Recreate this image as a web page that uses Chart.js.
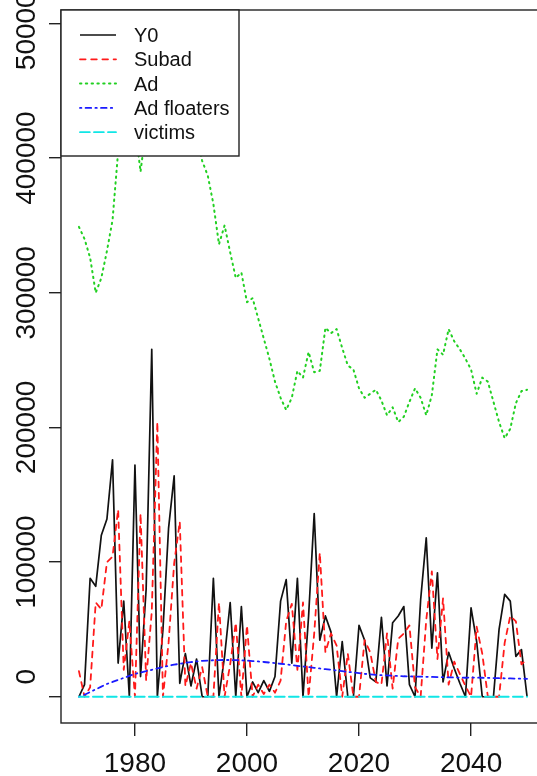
<!DOCTYPE html>
<html><head><meta charset="utf-8">
<script src="https://cdn.jsdelivr.net/npm/chart.js@4.4.1/dist/chart.umd.min.js"></script>
<style>
html,body{margin:0;padding:0;overflow:hidden;background:#fff;width:537px;height:776px}
#wrap{position:absolute;left:0;top:0;width:560px;height:776px}
canvas{display:block}
</style>
</head><body><div id="wrap"><canvas id="c" width="560" height="776" style="width:560px;height:776px"></canvas></div>
<script>
const years = [1970,1971,1972,1973,1974,1975,1976,1977,1978,1979,1980,1981,1982,1983,1984,1985,1986,1987,1988,1989,
1990,1991,1992,1993,1994,1995,1996,1997,1998,1999,2000,2001,2002,2003,2004,2005,2006,2007,2008,2009,
2010,2011,2012,2013,2014,2015,2016,2017,2018,2019,2020,2021,2022,2023,2024,2025,2026,2027,2028,2029,
2030,2031,2032,2033,2034,2035,2036,2037,2038,2039,2040,2041,2042,2043,2044,2045,2046,2047,2048,2049,2050];

const seriesNames = ["Y0","Subad","Ad","Ad floaters","victims"];

const y0 = [0,9000,88000,82000,120000,132000,176000,25000,71000,0,172000,15000,80000,258000,0,50000,125000,164000,10000,32000,
8000,28000,0,0,88000,0,30000,70000,0,67000,0,11000,3000,12000,4000,15000,71000,87000,25000,88000,
0,60000,136000,42000,60000,48000,0,41000,0,0,53000,42000,14000,11000,59000,8000,55000,60000,67000,9000,
0,72000,118000,36000,92000,11000,33000,21000,10000,0,66000,41000,0,0,0,50000,76000,71000,30000,35000,0];

const subad = [19000,0,7000,70000,65000,100000,104000,139000,20000,56000,0,136000,12000,63000,204000,0,40000,99000,130000,8000,
25000,6000,22000,0,0,70000,0,24000,55000,0,53000,0,9000,2000,9000,3000,12000,56000,69000,20000,
70000,0,47000,107000,33000,47000,38000,0,32000,0,0,42000,33000,11000,9000,47000,6000,43000,47000,53000,
7000,0,57000,93000,28000,73000,9000,26000,17000,8000,0,52000,32000,0,0,0,40000,60000,56000,24000,28000];

const ad = [349000,340000,326000,300000,311000,331000,354000,405000,440000,460000,424000,390000,423000,440000,462000,478000,488000,495000,480000,462000,
440000,415000,398000,387000,366000,336000,350000,330000,311000,315000,293000,296000,281000,266000,251000,234000,222000,213000,222000,242000,
237000,256000,241000,242000,274000,270000,273000,259000,246000,243000,229000,222000,225000,228000,220000,209000,215000,204000,208000,219000,
229000,222000,209000,224000,258000,254000,273000,264000,258000,251000,243000,225000,237000,234000,219000,204000,192000,199000,218000,227000,228000];

const adFloaters = [0,1500,3500,5500,7500,9500,11000,12500,14000,15500,17000,18000,19000,20000,21000,22000,23000,23800,24500,25200,
25700,26200,26600,26900,27100,27200,27300,27300,27200,27000,26800,26500,26200,25800,25400,25000,24500,24000,23500,23000,
22500,22000,21500,21000,20500,20000,19500,19000,18500,18000,17500,17000,16600,16300,16000,15800,15600,15400,15200,15100,
15000,14900,14800,14700,14600,14500,14400,14300,14200,14100,14300,14200,14100,14000,13900,13800,13700,13600,13500,13400,13300];

const victims = [0,0,0,0,0,0,0,0,0,0,0,0,0,0,0,0,0,0,0,0,0,0,0,0,0,0,0,0,0,0,0,0,0,0,0,0,0,0,0,0,
0,0,0,0,0,0,0,0,0,0,0,0,0,0,0,0,0,0,0,0,0,0,0,0,0,0,0,0,0,0,0,0,0,0,0,0,0,0,0,0,0];

const xTickValues = [1980,2000,2020,2040];
const yTickValues = [0,100000,200000,300000,400000,500000];
const yTickLabels = ["0","100000","200000","300000","400000","500000"];

const FONT = '"Liberation Sans", Arial, Helvetica, sans-serif';
const styles = [
  {color:'#111111', dash:[], width:1.7},
  {color:'#FF1A1A', dash:[5.6,5.6], width:1.8},
  {color:'#22D022', dash:[1.4,4.4], width:2.0},
  {color:'#1A1AFF', dash:[1.4,4.2,5.6,4.2], width:1.8},
  {color:'#11E6E6', dash:[9.8,4.2], width:1.8}
];
const allSeries = [y0, subad, ad, adFloaters, victims];

const datasets = allSeries.map((vals, k) => ({
  label: seriesNames[k],
  data: years.map((yr, i) => ({x: yr, y: vals[i]})),
  borderColor: styles[k].color,
  borderDash: styles[k].dash,
  borderWidth: styles[k].width,
  borderCapStyle: k === 0 ? 'butt' : 'round',
  borderJoinStyle: 'round',
  pointRadius: 0,
  tension: 0,
  fill: false,
  order: 5 - k
}));

const rPlugin = {
  id: 'rstyle',
  afterDraw(chart) {
    const ctx = chart.ctx, a = chart.chartArea, xs = chart.scales.x, ys = chart.scales.y;
    ctx.save();
    ctx.strokeStyle = '#222'; ctx.lineWidth = 1.4; ctx.setLineDash([]);
    ctx.strokeRect(a.left, a.top, a.right - a.left, a.bottom - a.top);
    ctx.fillStyle = '#111';
    ctx.font = '28px ' + FONT;
    yTickValues.forEach((v, i) => {
      let y = ys.getPixelForValue(v);
      if (yTickLabels[i] === '0') y -= 20;
      ctx.save();
      ctx.translate(35, y);
      ctx.rotate(-Math.PI / 2);
      ctx.textAlign = 'center';
      ctx.textBaseline = 'alphabetic';
      ctx.fillText(yTickLabels[i], 0, 0);
      ctx.restore();
    });
    ctx.textAlign = 'center';
    ctx.textBaseline = 'alphabetic';
    xTickValues.forEach(v => {
      ctx.fillText(String(v), xs.getPixelForValue(v), 772);
    });
    // legend
    const lx = a.left, ly = a.top, lw = 178, lh = 146;
    ctx.fillStyle = '#fff';
    ctx.fillRect(lx, ly, lw, lh);
    ctx.strokeStyle = '#222'; ctx.lineWidth = 1.4;
    ctx.strokeRect(lx, ly, lw, lh);
    ctx.font = '20px ' + FONT;
    ctx.textAlign = 'left';
    seriesNames.forEach((name, k) => {
      const yy = ly + 25 + k * 24.3;
      ctx.save();
      ctx.strokeStyle = styles[k].color;
      ctx.lineWidth = styles[k].width;
      ctx.lineCap = k === 0 ? 'butt' : 'round';
      ctx.setLineDash(styles[k].dash);
      ctx.beginPath();
      ctx.moveTo(lx + 19, yy);
      ctx.lineTo(lx + 55, yy);
      ctx.stroke();
      ctx.restore();
      ctx.fillStyle = '#111';
      ctx.fillText(name, lx + 73, yy + 7);
    });
    ctx.restore();
  }
};

new Chart(document.getElementById('c'), {
  type: 'line',
  data: { datasets },
  options: {
    responsive: false,
    animation: false,
    devicePixelRatio: 1,
    layout: { padding: { top: 10, right: 15, left: 0, bottom: 0 } },
    plugins: { legend: { display: false }, tooltip: { enabled: false } },
    scales: {
      x: {
        type: 'linear', min: 1966.8, max: 2053.2,
        afterBuildTicks: s => { s.ticks = xTickValues.map(v => ({value: v})); },
        afterFit: s => { s.height = 53; },
        ticks: { display: false },
        grid: { display: true, drawOnChartArea: false, drawTicks: true, tickLength: 13, color: '#222', lineWidth: 1.4 },
        border: { display: false }
      },
      y: {
        type: 'linear', min: -19500, max: 510000,
        afterBuildTicks: s => { s.ticks = yTickValues.map(v => ({value: v})); },
        afterFit: s => { s.width = 61; },
        ticks: { display: false },
        grid: { display: true, drawOnChartArea: false, drawTicks: true, tickLength: 12, color: '#222', lineWidth: 1.4 },
        border: { display: false }
      }
    }
  },
  plugins: [rPlugin]
});
</script>
</body></html>
